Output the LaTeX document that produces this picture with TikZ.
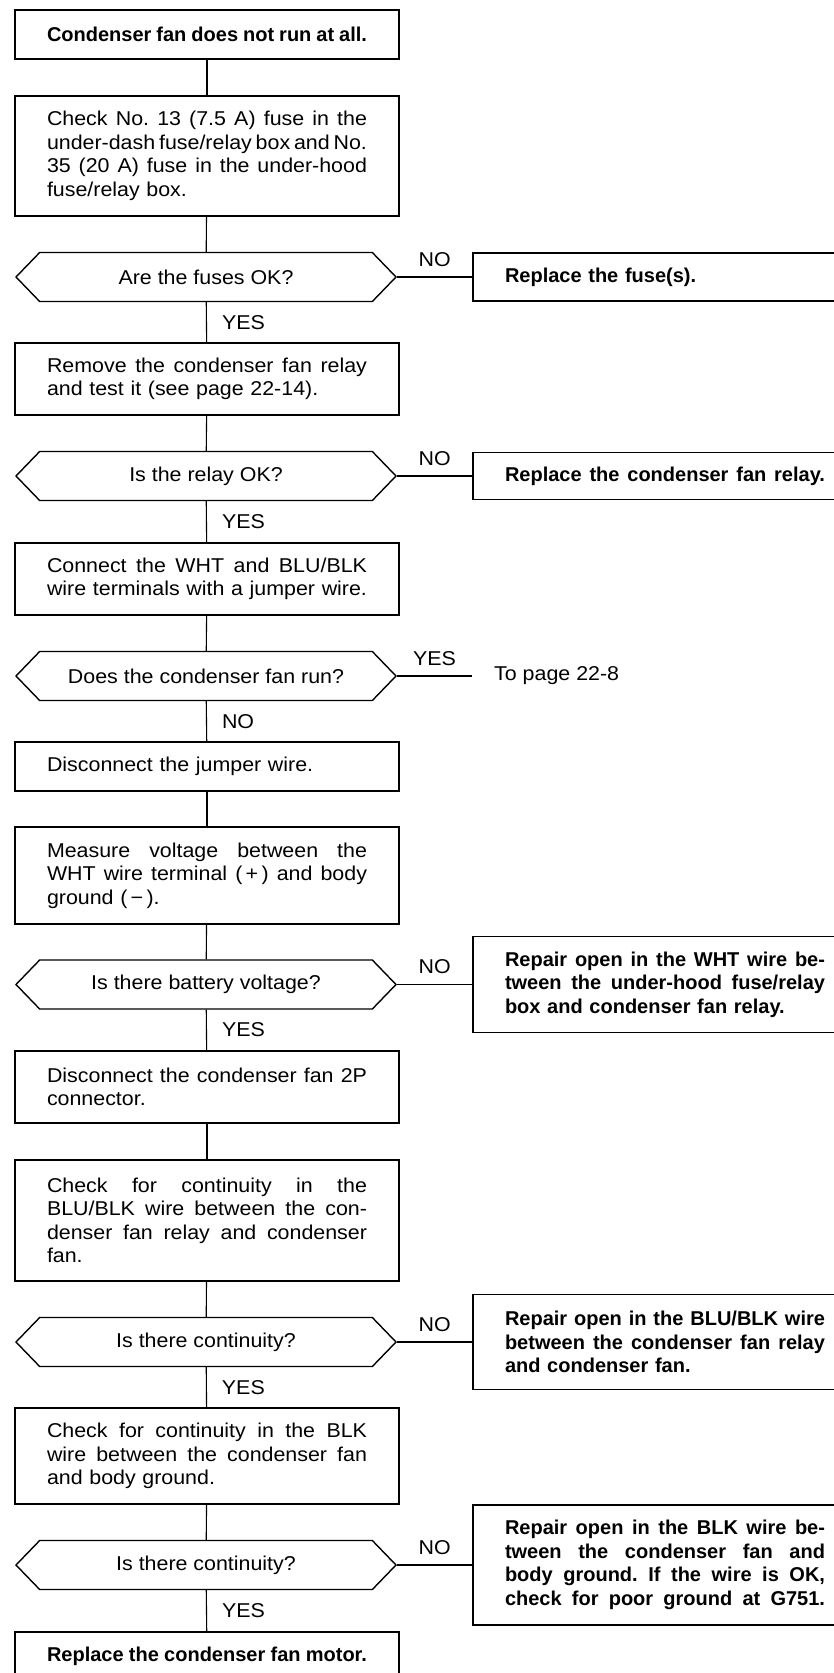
\documentclass[tikz,border=0pt]{standalone}
\usepackage{fontspec}
\setmainfont{Liberation Sans}
\newfontfamily\widesans{Liberation Sans}[FakeStretch=1.07]
\usetikzlibrary{positioning,shapes.symbols}
\newcommand{\fl}[1]{\noindent{\spaceskip=0.28em plus 2em minus 0.1em\xspaceskip=\spaceskip\makebox[320pt][s]{#1}}}
\tikzset{%
  check box/.style={
    rectangle,
    draw,
    line width=1.4pt,
    text width=320pt,
    align=left,
    inner xsep=32pt,
    inner ysep=0pt,
    font=\fontsize{20}{23.5}\selectfont\widesans\frenchspacing
  },
  repair box/.style={
    check box,
    font=\fontsize{20}{23.5}\selectfont\bfseries\frenchspacing
  },
  query/.style={
    signal,
    signal to=east and west,
    signal pointer angle=92,
    draw,
    line width=1.4pt,
    minimum width=380pt,
    minimum height=49pt,
    inner sep=0pt,
    font=\fontsize{20}{23.5}\selectfont\widesans
  },
  answer/.style={
    inner sep=0pt,
    font=\fontsize{20}{23.5}\selectfont\widesans
  },
  link/.style={line width=1.1pt}
}

\begin{document}
\begin{tikzpicture}[x=1pt, y=-1pt]
\useasboundingbox (0,0) rectangle (833,1673);

\node[repair box, minimum height=49pt] (b1) at (207,34.5) {\fl{Condenser fan does not run at all.}};
\node[check box, minimum height=120pt] (b2) at (207,156) {\fl{Check No. 13 (7.5 A) fuse in the}\\ \fl{under-dash fuse/relay box and No.}\\ \fl{35 (20 A) fuse in the under-hood}\\ fuse/relay box.};
\node[query] (d1) at (206,277) {Are the fuses OK?};
\node[repair box, minimum height=48pt] (r1) at (665,277) {Replace the fuse(s).};
\node[check box, minimum height=72pt] (b3) at (207,379) {\fl{Remove the condenser fan relay}\\ and test it (see page 22-14).};
\node[query] (d2) at (206,476) {Is the relay OK?};
\node[repair box, minimum height=47pt] (r2) at (665,476) {\fl{Replace the condenser fan relay.}};
\node[check box, minimum height=72pt] (b4) at (207,579) {\fl{Connect the WHT and BLU/BLK}\\ \fl{wire terminals with a jumper wire.}};
\node[query] (d3) at (206,676) {Does the condenser fan run?};
\node[answer, anchor=west, inner xsep=22pt] (t3) at (472,676) {To page 22-8};
\node[check box, minimum height=49pt] (b5) at (207,766.5) {Disconnect the jumper wire.};
\node[check box, minimum height=97pt] (b6) at (207,875.5) {\fl{Measure voltage between the}\\ \fl{WHT wire terminal (\,+\,) and body}\\ ground (\,−\,).};
\node[query] (d4) at (206,984.5) {Is there battery voltage?};
\node[repair box, minimum height=96pt] (r4) at (665,984.5) {\fl{Repair open in the WHT wire be-}\\ \fl{tween the under-hood fuse/relay}\\ box and condenser fan relay.};
\node[check box, minimum height=72pt] (b7) at (207,1087) {\fl{Disconnect the condenser fan 2P}\\ connector.};
\node[check box, minimum height=121pt] (b8) at (207,1220.5) {\fl{Check for continuity in the}\\ \fl{BLU/BLK wire between the con-}\\ \fl{denser fan relay and condenser}\\ fan.};
\node[query] (d5) at (206,1342) {Is there continuity?};
\node[repair box, minimum height=95pt] (r5) at (665,1342) {\fl{Repair open in the BLU/BLK wire}\\ \fl{between the condenser fan relay}\\ and condenser fan.};
\node[check box, minimum height=96pt] (b9) at (207,1456) {\fl{Check for continuity in the BLK}\\ \fl{wire between the condenser fan}\\ and body ground.};
\node[query] (d6) at (206,1565) {Is there continuity?};
\node[repair box, minimum height=120pt] (r6) at (665,1565) {\fl{Repair open in the BLK wire be-}\\ \fl{tween the condenser fan and}\\ \fl{body ground. If the wire is OK,}\\ \fl{check for poor ground at G751.}};
\node[repair box, minimum height=48pt] (b10) at (207,1656) {\fl{Replace the condenser fan motor.}};

\draw[link] (b1) -- (b2);
\draw[link] (b2) -- (d1);
\draw[link] (d1.east) -- node[answer, above=10pt] {NO} (r1.west);
\draw[link] (d1) -- node[answer, right=15pt] {YES} (b3);
\draw[link] (b3) -- (d2);
\draw[link] (d2.east) -- node[answer, above=10pt] {NO} (r2.west);
\draw[link] (d2) -- node[answer, right=15pt] {YES} (b4);
\draw[link] (b4) -- (d3);
\draw[link] (d3.east) -- node[answer, above=10pt] {YES} (t3.west);
\draw[link] (d3) -- node[answer, right=15pt] {NO} (b5);
\draw[link] (b5) -- (b6);
\draw[link] (b6) -- (d4);
\draw[link] (d4.east) -- node[answer, above=10pt] {NO} (r4.west);
\draw[link] (d4) -- node[answer, right=15pt] {YES} (b7);
\draw[link] (b7) -- (b8);
\draw[link] (b8) -- (d5);
\draw[link] (d5.east) -- node[answer, above=10pt] {NO} (r5.west);
\draw[link] (d5) -- node[answer, right=15pt] {YES} (b9);
\draw[link] (b9) -- (d6);
\draw[link] (d6.east) -- node[answer, above=10pt] {NO} (r6.west);
\draw[link] (d6) -- node[answer, right=15pt] {YES} (b10);
\end{tikzpicture}
\end{document}
